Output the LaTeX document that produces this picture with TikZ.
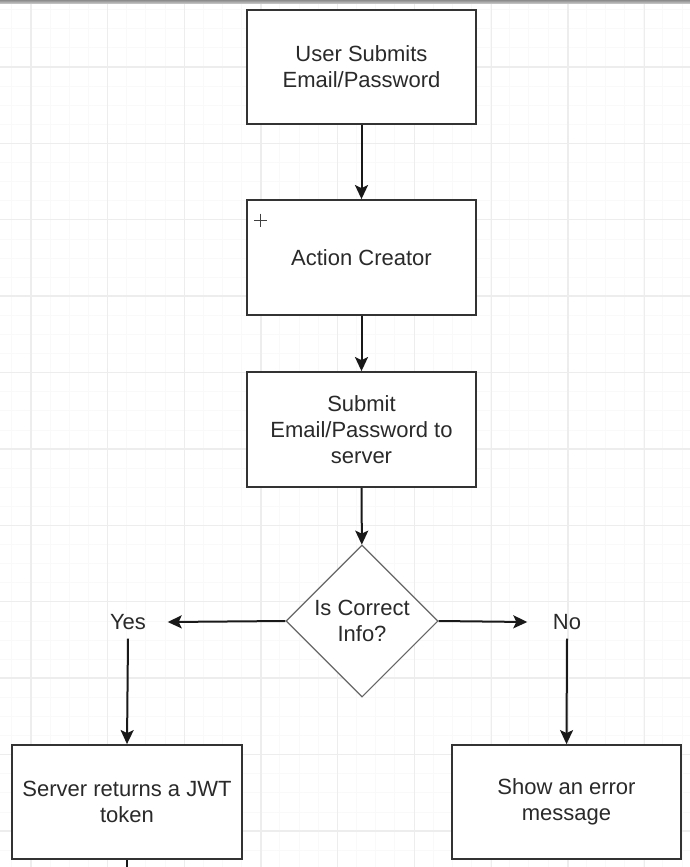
\documentclass[tikz,border=0pt]{standalone}
\usepackage{fontspec}
\setmainfont{Liberation Sans}
\usetikzlibrary{shapes.geometric,arrows.meta}
\definecolor{txt}{HTML}{2A2A2A}
\definecolor{edge}{HTML}{333333}
\definecolor{gridmajor}{HTML}{EDEDED}
\definecolor{gridminor}{HTML}{F9F9F9}
\tikzset{
  box/.style={draw=edge, line width=1.8pt, fill=white, minimum width=229pt, minimum height=114pt,
    inner sep=2pt, align=center, text=txt, font=\fontsize{22}{26}\selectfont},
  decision/.style={diamond, aspect=1, draw=black!60, line width=1.1pt, fill=white, minimum width=152pt,
    minimum height=152pt, inner sep=0pt, align=center, text=txt, font=\fontsize{22}{26}\selectfont},
  lbl/.style={inner sep=0pt, minimum width=79pt, minimum height=33pt, text=txt, font=\fontsize{22}{26}\selectfont},
  arr/.style={draw=black!90, line width=2pt, -{Stealth[length=14pt,width=13pt,inset=3pt]}},
  plain/.style={draw=black!90, line width=2pt}
}
\begin{document}
\begin{tikzpicture}[x=1pt,y=-1pt]
\useasboundingbox (0,0) rectangle (690,867);
\fill[white] (0,0) rectangle (690,867);
% minor grid
\foreach \x in {0,...,36} {\draw[gridminor, line width=0.6pt] ({-7.5+\x*19.15},0) -- ({-7.5+\x*19.15},867);}
\foreach \y in {0,...,46} {\draw[gridminor, line width=0.6pt] (0,{-9.5+\y*19.1}) -- (690,{-9.5+\y*19.1});}
% major grid
\foreach \x in {0,...,9} {\draw[gridmajor, line width=1.3pt] ({31+\x*76.7},0) -- ({31+\x*76.7},867);}
\foreach \y in {0,...,11} {\draw[gridmajor, line width=1.3pt] (0,{-9.5+\y*76.4}) -- (690,{-9.5+\y*76.4});}
% top bar
\shade[top color=black!45, bottom color=black!18] (0,0) rectangle (690,4);

\node[box] (b1) at (361.5,67) {User Submits\\Email/Password};
\node[box, minimum height=115pt] (b2) at (361.5,257.5) {Action Creator};
\node[box, minimum height=115pt] (b3) at (361.5,429.5) {Submit\\Email/Password to\\server};
\node[decision] (dia) at (362,621) {Is Correct\\Info?};
\node[lbl] (yes) at (128,622) {Yes};
\node[lbl] (no) at (567,622) {No};
\node[box, minimum width=230pt] (b4) at (127,802) {Server returns a JWT\\token};
\node[box] (b5) at (566.5,802) {Show an error\\message};
\coordinate (tail) at (127,875);

% plus marker in Action Creator
\draw[black!75, line width=0.9pt] (254,220) -- (267,220) (260.5,213.5) -- (260.5,226.5);

\draw[arr] (b1) -- (b2);
\draw[arr] (b2) -- (b3);
\draw[arr] (b3) -- (dia);
\draw[arr] (dia.west) -- (yes.east);
\draw[arr] (dia.east) -- (no.west);
\draw[arr] (yes.south) -- (b4.north);
\draw[arr] (no.south) -- (b5.north);
\draw[plain] (b4.south) -- (tail);
\end{tikzpicture}
\end{document}
